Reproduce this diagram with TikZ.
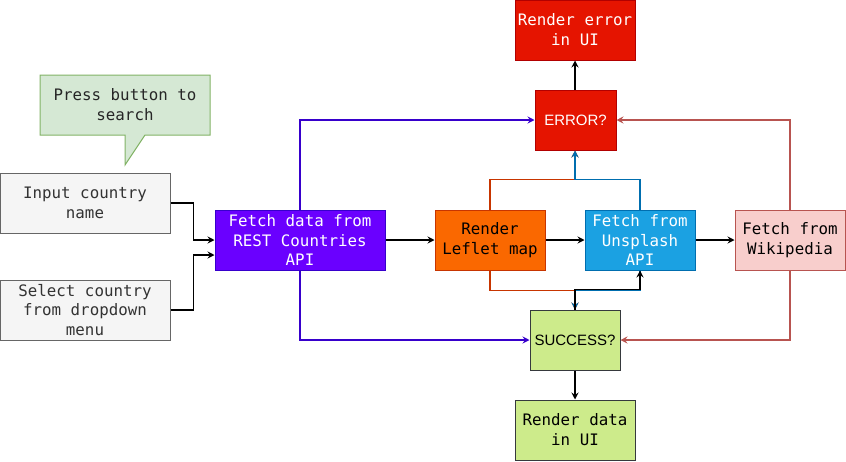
\documentclass[tikz,border=0pt]{standalone}
\usepackage{fontspec}
\setmainfont{Liberation Sans}
\newfontfamily\monofont{DejaVu Sans Mono}
\usetikzlibrary{arrows.meta}
\definecolor{calloutfill}{HTML}{D5E8D4}
\definecolor{calloutdraw}{HTML}{82B366}
\definecolor{grayfill}{HTML}{F5F5F5}
\definecolor{graydraw}{HTML}{666666}
\definecolor{graytext}{HTML}{333333}
\definecolor{purplefill}{HTML}{6A00FF}
\definecolor{purpledraw}{HTML}{3700CC}
\definecolor{orangefill}{HTML}{FA6800}
\definecolor{orangedraw}{HTML}{C73500}
\definecolor{bluefill}{HTML}{1BA1E2}
\definecolor{bluedraw}{HTML}{006EAF}
\definecolor{pinkfill}{HTML}{F8CECC}
\definecolor{pinkdraw}{HTML}{B85450}
\definecolor{redfill}{HTML}{E51400}
\definecolor{reddraw}{HTML}{B20000}
\definecolor{greenfill}{HTML}{CDEB8B}
\definecolor{greendraw}{HTML}{36393D}
\begin{document}
\begin{tikzpicture}[x=1pt,y=-1pt,
  box/.style={rectangle,draw,line width=1pt,inner sep=0pt,align=center,
    font=\monofont\fontsize{15.8}{19.8}\selectfont},
  sansbox/.style={box,font=\fontsize{15}{18}\selectfont},
  arr/.style={line width=1.1pt,-{Stealth[length=7pt,width=7pt,inset=2.5pt]}}]
\useasboundingbox (0,0) rectangle (846,461);
% callout
\fill[calloutfill,draw=calloutdraw,line width=1pt] (40,75) -- (210,75) -- (210,135) -- (145,135) -- (125,165) -- (125,135) -- (40,135) -- cycle;
\node[align=center,inner sep=0pt,text=black!85,font=\monofont\fontsize{15.8}{19.8}\selectfont] (callout) at (125,105) {Press button to\\search};
% boxes
\node[box,fill=grayfill,draw=graydraw,text=graytext,minimum width=170pt,minimum height=60pt] (in) at (85,203) {Input country\\name};
\node[box,fill=grayfill,draw=graydraw,text=graytext,minimum width=170pt,minimum height=60pt] (sel) at (85,310) {Select country\\from dropdown\\menu};
\node[box,fill=purplefill,draw=purpledraw,text=white,minimum width=170pt,minimum height=60pt] (rest) at (300,240) {Fetch data from\\REST Countries\\API};
\node[box,fill=orangefill,draw=orangedraw,text=black,minimum width=110pt,minimum height=60pt] (leaf) at (490,240) {Render\\Leflet map};
\node[box,fill=bluefill,draw=bluedraw,text=white,minimum width=110pt,minimum height=60pt] (uns) at (640,240) {Fetch from\\Unsplash\\API};
\node[box,fill=pinkfill,draw=pinkdraw,text=black,minimum width=110pt,minimum height=60pt] (wiki) at (790,240) {Fetch from\\Wikipedia};
\node[sansbox,fill=redfill,draw=reddraw,text=white,minimum width=81pt,minimum height=60pt] (err) at (575.5,120) {ERROR?};
\node[box,fill=redfill,draw=reddraw,text=white,minimum width=120pt,minimum height=60pt] (rerr) at (575,30) {Render error\\in UI};
\node[sansbox,fill=greenfill,draw=greendraw,text=black,minimum width=90pt,minimum height=60pt] (succ) at (575,340) {SUCCESS?};
\node[box,fill=greenfill,draw=greendraw,text=black,minimum width=120pt,minimum height=60pt] (rdata) at (575,430) {Render data\\in UI};
% connectors
\draw[arr] (in.east) -- ++(23,0) |- (rest.west);
\draw[arr] (sel.east) -- ++(23,0) |- ([yshift=-15pt]rest.west);
\draw[arr] (rest.east) -- (leaf.west);
\draw[arr] (leaf.east) -- (uns.west);
\draw[arr] (uns.east) -- (wiki.west);
\draw[arr,purpledraw] (rest.north) |- (err.west);
\draw[arr,purpledraw] (rest.south) |- (succ.west);
\draw[arr,orangedraw] (leaf.north) -- ++(0,-30) -| ([xshift=-0.5pt]err.south);
\draw[arr,bluedraw] (uns.north) -- ++(0,-30) -| ([xshift=-0.5pt]err.south);
\draw[arr,orangedraw] (leaf.south) -- ++(0,20) -| (succ.north);
\draw[arr,bluedraw] (uns.south) -- ++(0,20) -| (succ.north);
\draw[arr] (succ.north) -- ++(0,-20) -| (uns.south);
\draw[arr,pinkdraw] (wiki.north) |- (err.east);
\draw[arr,pinkdraw] (wiki.south) |- (succ.east);
\draw[arr] ([xshift=-0.5pt]err.north) -- (rerr.south);
\draw[arr] (succ.south) -- (rdata.north);
\end{tikzpicture}
\end{document}
